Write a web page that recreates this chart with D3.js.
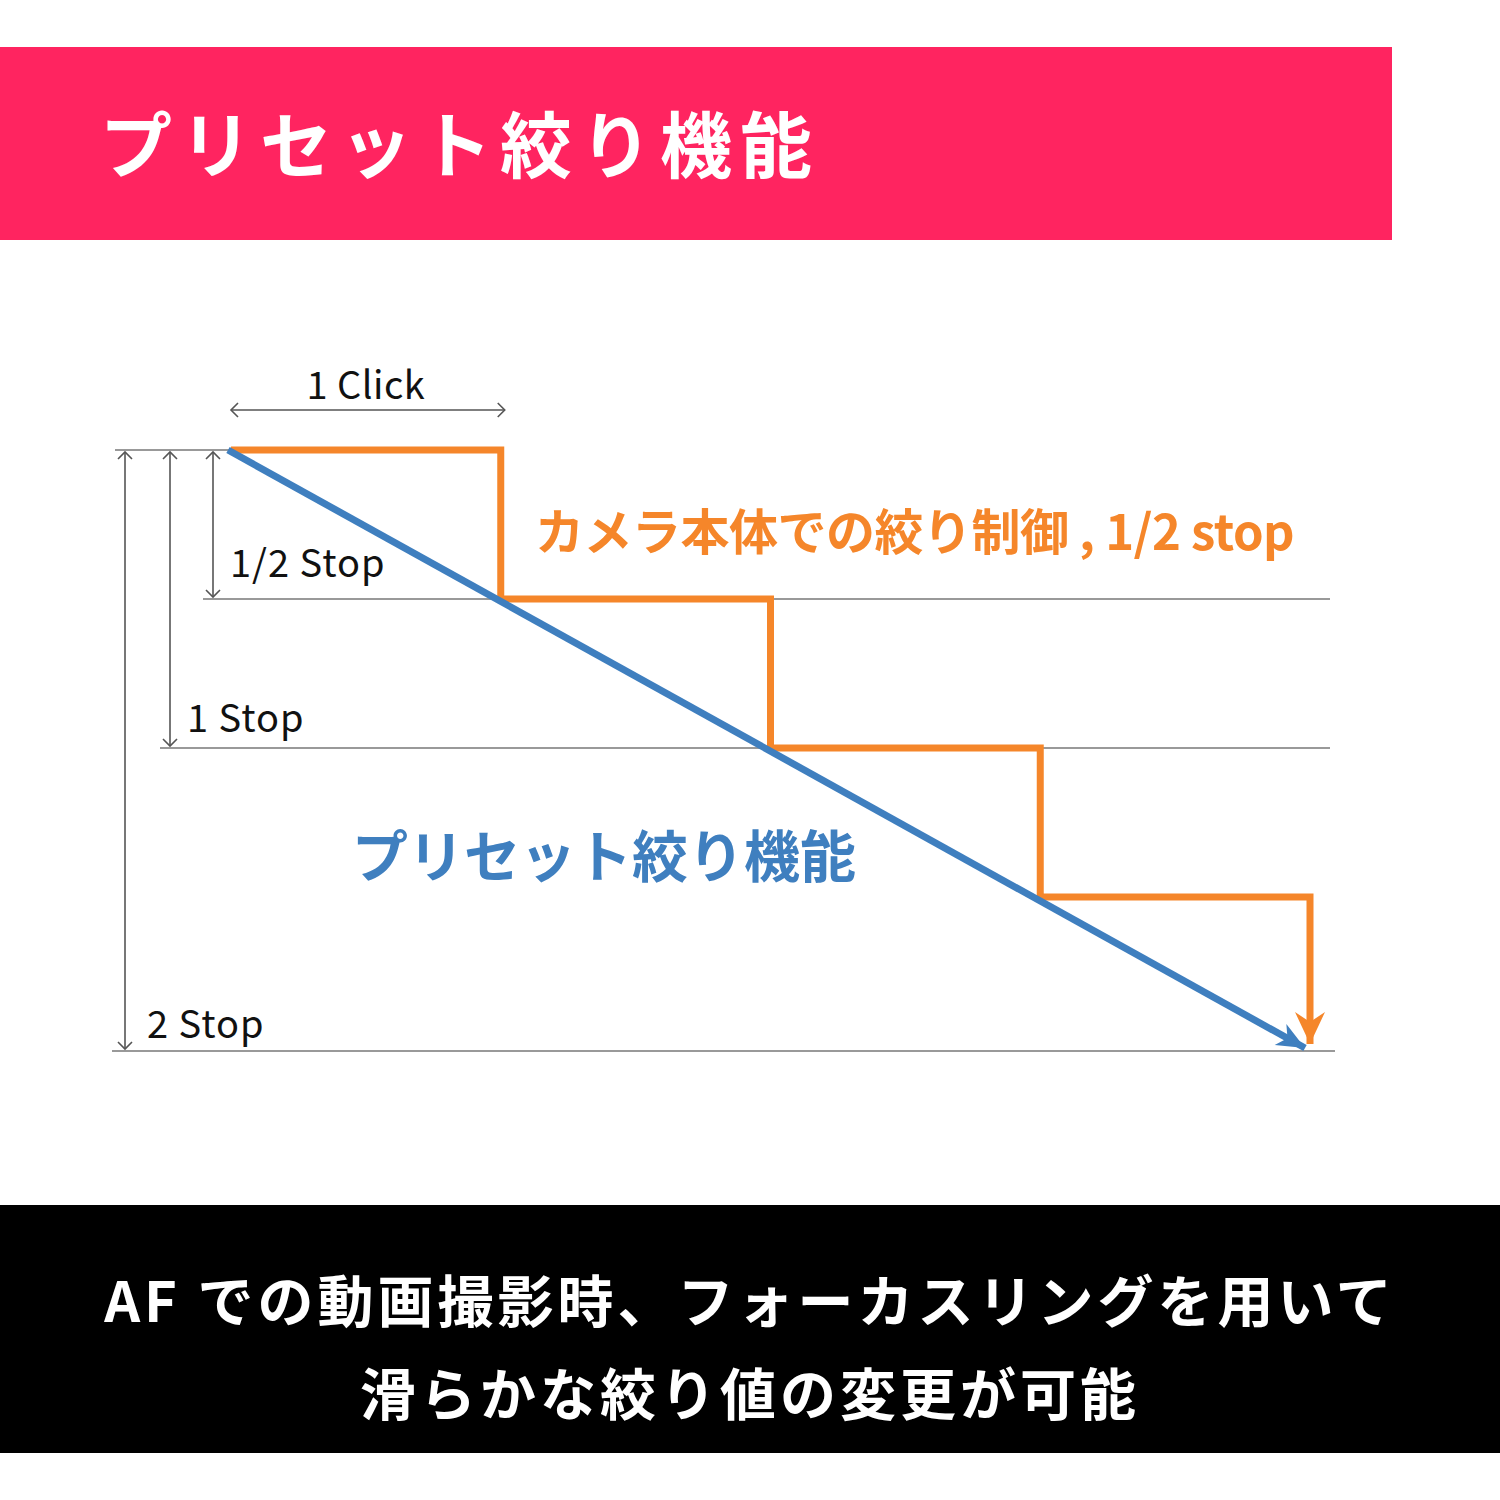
<!DOCTYPE html>
<html><head><meta charset="utf-8">
<script src="https://cdn.jsdelivr.net/npm/d3@7/dist/d3.min.js"></script>
<style>body{margin:0;background:#fff}</style></head>
<body><svg id="c" width="1500" height="1500"></svg>
<script>
const title = "プリセット絞り機能";
const footerLines = ["AF での動画撮影時、フォーカスリングを用いて","滑らかな絞り値の変更が可能"];
const clicks = [0,1,2,3,4];
const stepStops = [0,0.5,1,1.5,2];
const gridStops = [0.5,1,2];
const stopLabels = [{s:0.5,t:"1/2 Stop"},{s:1,t:"1 Stop"},{s:2,t:"2 Stop"}];
const orangeLabel = "カメラ本体での絞り制御 , 1/2 stop";
const blueLabel = "プリセット絞り機能";
const clickLabel = "1 Click";

const F = "'Noto Sans CJK JP','Noto Sans',sans-serif";
const svg = d3.select("#c");
const x = d3.scaleLinear().domain([0,4]).range([231,1310]);
const y = d3.scaleLinear().domain([0,2]).range([450,1046]);
const ORANGE="#F5862A", BLUE="#3F7FBF", GRAY="#555";

const defs = svg.append("defs");
defs.append("marker").attr("id","open").attr("viewBox","-10 -10 20 20").attr("markerWidth",20).attr("markerHeight",20)
 .attr("markerUnits","userSpaceOnUse").attr("orient","auto-start-reverse").attr("refX",0).attr("refY",0)
 .append("path").attr("d","M-7,-7 L0,0 L-7,7").attr("fill","none").attr("stroke",GRAY).attr("stroke-width",1.6);
defs.append("marker").attr("id","oa").attr("viewBox","-36 -20 40 40").attr("markerWidth",40).attr("markerHeight",40)
 .attr("markerUnits","userSpaceOnUse").attr("orient","auto").attr("refX",0).attr("refY",0)
 .append("path").attr("d","M-32,-15 L0,0 L-32,15 L-22,0 Z").attr("fill",ORANGE);
defs.append("marker").attr("id","ba").attr("viewBox","-32 -15 34 30").attr("markerWidth",34).attr("markerHeight",30)
 .attr("markerUnits","userSpaceOnUse").attr("orient","auto").attr("refX",0).attr("refY",0)
 .append("path").attr("d","M-28,-12 L0,0 L-28,12 L-20,0 Z").attr("fill",BLUE);

// banners
svg.append("rect").attr("x",0).attr("y",47).attr("width",1392).attr("height",193).attr("fill","#FF2460");
svg.append("text").attr("x",100).attr("y",172).attr("font-family",F).attr("font-weight",700).attr("font-size",72)
 .attr("letter-spacing",8).attr("fill","#fff").text(title);
svg.append("rect").attr("x",0).attr("y",1205).attr("width",1500).attr("height",248).attr("fill","#000");
svg.selectAll(".ft").data(footerLines).join("text").attr("x",750).attr("y",(d,i)=>1322+i*93)
 .attr("text-anchor","middle").attr("font-family",F).attr("font-weight",700).attr("font-size",56)
 .attr("letter-spacing",4).attr("fill","#fff").text(d=>d);

// grid lines
const gridStart = {0.5:203,1:160,2:112};
svg.selectAll(".g").data(gridStops).join("line").attr("x1",d=>gridStart[d]).attr("x2",d=>d===2?1335:1330)
 .attr("y1",d=>d===2?1051:y(d)).attr("y2",d=>d===2?1051:y(d)).attr("stroke","#777").attr("stroke-width",1.3);
svg.append("line").attr("x1",115).attr("x2",230).attr("y1",y(0)).attr("y2",y(0)).attr("stroke","#777").attr("stroke-width",1.3);

// vertical dimension arrows
const vx = {0.5:213,1:170,2:125};
svg.selectAll(".v").data(gridStops).join("line").attr("x1",d=>vx[d]).attr("x2",d=>vx[d])
 .attr("y1",y(0)+2).attr("y2",d=>d===2?1049:y(d)-2).attr("stroke",GRAY).attr("stroke-width",1.6)
 .attr("marker-start","url(#open)").attr("marker-end","url(#open)");
// click arrow
svg.append("line").attr("x1",x(0)).attr("x2",x(1)+4).attr("y1",410).attr("y2",410).attr("stroke",GRAY).attr("stroke-width",1.6)
 .attr("marker-start","url(#open)").attr("marker-end","url(#open)");
svg.append("text").attr("x",(x(0)+x(1))/2).attr("y",399).attr("text-anchor","middle").attr("font-family",F)
 .attr("font-size",38).attr("letter-spacing",0.5).attr("fill","#111").text(clickLabel);

const lx = {0.5:230,1:187,2:147}, ly={0.5:577,1:732,2:1038};
svg.selectAll(".sl").data(stopLabels).join("text").attr("x",d=>lx[d.s]).attr("y",d=>ly[d.s])
 .attr("font-family",F).attr("font-size",38).attr("letter-spacing",1).attr("fill","#111").text(d=>d.t);

// orange steps
const pts=[];
clicks.slice(0,4).forEach((c,i)=>{pts.push([x(c),y(stepStops[i])]);pts.push([x(c+1),y(stepStops[i])]);});
pts.push([x(4),y(2)-2]);
svg.append("path").attr("d",d3.line()(pts)).attr("fill","none").attr("stroke",ORANGE).attr("stroke-width",7)
 .attr("marker-end","url(#oa)");

// blue line
svg.append("line").attr("x1",x(0)-3).attr("y1",y(0)).attr("x2",x(4)-5).attr("y2",y(2)+2).attr("stroke",BLUE).attr("stroke-width",7)
 .attr("marker-end","url(#ba)");

svg.append("text").attr("x",535).attr("y",550).attr("font-family",F).attr("font-weight",700).attr("font-size",49)
 .attr("letter-spacing",-0.5).attr("fill",ORANGE).text(orangeLabel);
svg.append("text").attr("x",352).attr("y",877).attr("font-family",F).attr("font-weight",700).attr("font-size",56)
 .attr("fill",BLUE).text(blueLabel);
</script></body></html>
